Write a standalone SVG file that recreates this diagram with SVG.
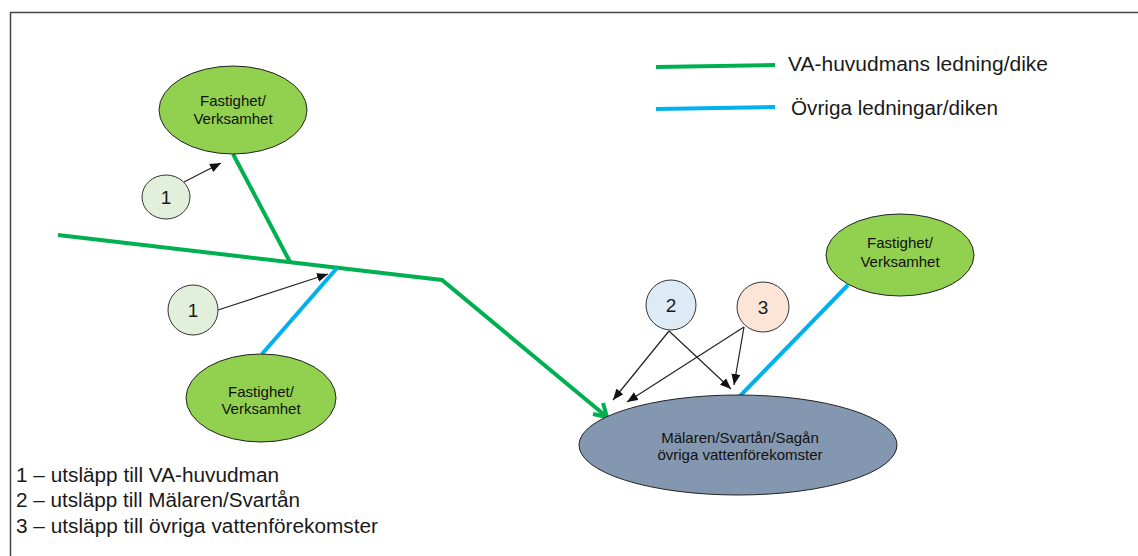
<svg xmlns="http://www.w3.org/2000/svg" width="1138" height="556" viewBox="0 0 1138 556">
<defs>
<style>
.frame{fill:none;stroke:#444;stroke-width:1.5}
.green{fill:none;stroke:#00B050;stroke-width:4;stroke-linecap:butt;stroke-linejoin:miter}
.blue{fill:none;stroke:#00B0F0;stroke-width:4}
.arr{fill:none;stroke:#222;stroke-width:1.2;marker-end:url(#ah)}
.prop{fill:#92D050;stroke:#222;stroke-width:1}
.lake{fill:#8497B0;stroke:#222;stroke-width:1}
.c1{fill:#E2EFDA;stroke:#333;stroke-width:1}
.c2{fill:#DDEBF7;stroke:#333;stroke-width:1}
.c3{fill:#FCE4D6;stroke:#333;stroke-width:1}
.nt{font-family:"Liberation Sans",Arial,sans-serif;font-size:15px;fill:#111;text-anchor:middle}
.num{font-family:"Liberation Sans",Arial,sans-serif;font-size:19px;fill:#1a1a1a;text-anchor:middle}
.leg{font-family:"Liberation Sans",Arial,sans-serif;font-size:20px;fill:#1a1a1a}
.leg2{font-family:"Liberation Sans",Arial,sans-serif;font-size:20px;fill:#1a1a1a}
</style>
<marker id="ah" markerUnits="userSpaceOnUse" markerWidth="11" markerHeight="9" refX="11" refY="4.5" orient="auto">
<path d="M0,0 L11,4.5 L0,9 z" fill="#111"/>
</marker>
</defs>
<rect width="1138" height="556" fill="#fff"/>
<path class="frame" d="M10.5,556 V12.5 H1138"/>

<g id="connectors">
<path class="green" d="M58,235 L442,280 L607,417"/>
<path class="green" d="M593,414 L607,417 L603,403"/>
<path class="green" d="M233,154 L290,262"/>
<path class="blue" d="M337,268 L262,354"/>
<path class="blue" d="M848,285 L740,396"/>
<line class="arr" x1="184" y1="182" x2="221" y2="163"/>
<line class="arr" x1="218" y1="310" x2="328" y2="274"/>
<line class="arr" x1="669" y1="331" x2="613" y2="400"/>
<line class="arr" x1="669" y1="331" x2="731" y2="389"/>
<line class="arr" x1="744" y1="327" x2="627" y2="402"/>
<line class="arr" x1="744" y1="327" x2="734" y2="385"/>
</g>

<g id="legend-lines">
<line class="green" x1="656" y1="67" x2="775" y2="65"/>
<line class="blue" x1="656" y1="109" x2="775" y2="107"/>
<text class="leg" x="788" y="71" textLength="260" lengthAdjust="spacingAndGlyphs">VA-huvudmans ledning/dike</text>
<text class="leg" x="791" y="115" textLength="207" lengthAdjust="spacingAndGlyphs">Övriga ledningar/diken</text>
</g>

<g id="node-prop-top">
<ellipse class="prop" cx="233" cy="110" rx="74" ry="44"/>
<text class="nt" x="233" y="106">Fastighet/</text>
<text class="nt" x="233" y="124">Verksamhet</text>
</g>

<g id="node-prop-bottom">
<ellipse class="prop" cx="261" cy="398" rx="75" ry="44"/>
<text class="nt" x="261" y="397">Fastighet/</text>
<text class="nt" x="261" y="414">Verksamhet</text>
</g>

<g id="node-prop-right">
<ellipse class="prop" cx="900" cy="255" rx="74" ry="41"/>
<text class="nt" x="900" y="248">Fastighet/</text>
<text class="nt" x="900" y="267">Verksamhet</text>
</g>

<g id="node-lake">
<ellipse class="lake" cx="738" cy="445" rx="159" ry="50"/>
<text class="nt" x="740" y="443">Mälaren/Svartån/Sagån</text>
<text class="nt" x="740" y="460">övriga vattenförekomster</text>
</g>

<g id="node-1a">
<ellipse class="c1" cx="166" cy="197" rx="24" ry="22"/>
<text class="num" x="166" y="204">1</text>
</g>

<g id="node-1b">
<ellipse class="c1" cx="193" cy="310" rx="25" ry="25"/>
<text class="num" x="193" y="317">1</text>
</g>

<g id="node-2">
<circle class="c2" cx="671" cy="305" r="25"/>
<text class="num" x="671" y="312">2</text>
</g>

<g id="node-3">
<ellipse class="c3" cx="763" cy="307" rx="26" ry="25"/>
<text class="num" x="763" y="314">3</text>
</g>

<g id="key">
<text class="leg2" x="16" y="482" textLength="263" lengthAdjust="spacingAndGlyphs">1 – utsläpp till VA-huvudman</text>
<text class="leg2" x="16" y="507" textLength="284" lengthAdjust="spacingAndGlyphs">2 – utsläpp till Mälaren/Svartån</text>
<text class="leg2" x="16" y="533" textLength="362" lengthAdjust="spacingAndGlyphs">3 – utsläpp till övriga vattenförekomster</text>
</g>
</svg>
